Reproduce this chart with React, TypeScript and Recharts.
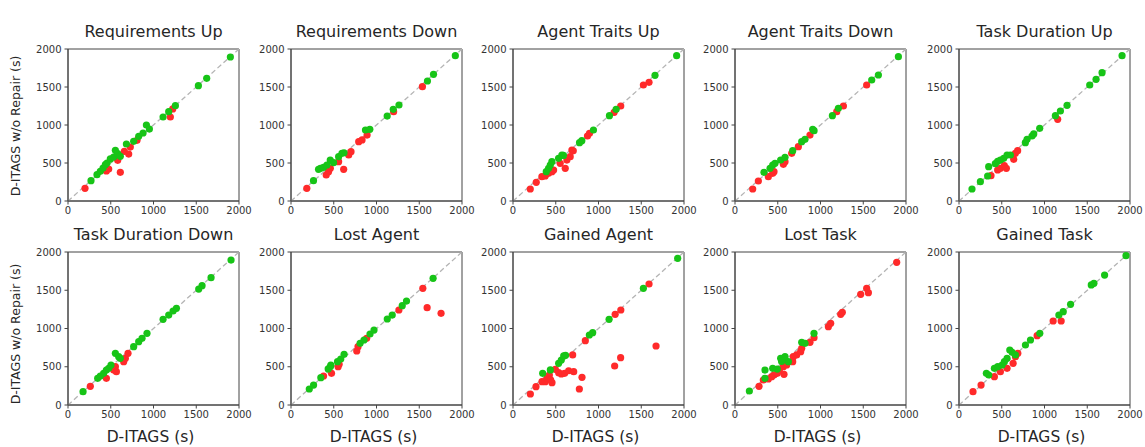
import React from 'react';
import { ScatterChart, Scatter, XAxis, YAxis, ReferenceLine, ReferenceArea } from 'recharts';

type P = [number, number];

const titles = [
  'Requirements Up', 'Requirements Down', 'Agent Traits Up', 'Agent Traits Down', 'Task Duration Up',
  'Task Duration Down', 'Lost Agent', 'Gained Agent', 'Lost Task', 'Gained Task',
];
const axisTicks = [0, 500, 1000, 1500, 2000];
const xLabel = 'D-ITAGS (s)';
const yLabel = 'D-ITAGS w/o Repair (s)';

const reqUpGreen: P[] = [[269,268],[339,346],[378,390],[410,434],[437,478],[456,500],[495,553],[534,579],[554,667],[581,623],[612,588],[683,750],[768,785],[827,851],[878,895],[917,1000],[952,947],[1112,1105],[1178,1175],[1256,1254],[1525,1518],[1622,1614],[1899,1895]];
const reqUpRed: P[] = [[199,167],[449,395],[476,421],[581,535],[612,377],[659,654],[710,618],[729,710],[807,798],[1197,1105],[1225,1211]];

const reqDownGreen: P[] = [[263,267],[322,417],[345,430],[380,443],[420,474],[459,539],[498,504],[557,583],[596,627],[620,635],[871,934],[922,943],[1125,1118],[1196,1206],[1263,1263],[1596,1579],[1667,1667],[1922,1912]];
const reqDownRed: P[] = [[185,167],[412,342],[439,386],[460,430],[557,518],[616,417],[675,605],[702,649],[792,781],[831,803],[890,868],[1200,1175],[1537,1504]];

const traitsUpGreen: P[] = [[389,386],[416,430],[436,474],[455,518],[533,561],[572,605],[590,600],[778,768],[805,794],[941,934],[1128,1123],[1206,1206],[1661,1654],[1914,1912]];
const traitsUpRed: P[] = [[202,158],[272,246],[338,320],[377,329],[416,364],[455,386],[475,408],[552,496],[611,430],[630,539],[669,583],[689,671],[705,660],[871,855],[895,890],[1183,1167],[1260,1250],[1525,1526],[1591,1561]];

const traitsDownGreen: P[] = [[339,377],[410,430],[441,474],[468,496],[534,539],[585,575],[675,662],[780,781],[819,811],[909,943],[925,925],[1139,1123],[1209,1219],[1599,1592],[1677,1658],[1911,1899]];
const traitsDownRed: P[] = [[207,158],[273,263],[390,320],[441,364],[456,386],[566,482],[585,518],[663,627],[741,715],[877,868],[1190,1175],[1268,1250],[1540,1526]];

const durUpGreen: P[] = [[152,158],[250,254],[335,329],[347,452],[425,491],[452,522],[484,539],[523,561],[562,605],[601,605],[776,768],[796,811],[854,855],[874,882],[944,956],[1127,1123],[1186,1184],[1264,1259],[1529,1526],[1603,1601],[1673,1689],[1907,1912]];
const durUpRed: P[] = [[374,333],[452,408],[484,430],[530,465],[554,430],[640,548],[659,627],[686,662],[1154,1075]];

const durDownGreen: P[] = [[176,174],[347,349],[378,379],[417,414],[449,457],[476,479],[503,523],[554,675],[593,632],[612,610],[768,762],[827,828],[866,871],[924,937],[1112,1120],[1178,1176],[1229,1229],[1268,1264],[1529,1516],[1568,1560],[1673,1664],[1907,1895]];
const durDownRed: P[] = [[261,244],[449,349],[534,457],[566,436],[554,501],[651,566],[671,610],[702,675]];

const lostAgentGreen: P[] = [[214,209],[264,261],[349,357],[435,471],[466,523],[460,500],[544,566],[582,601],[621,662],[808,806],[854,850],[924,928],[971,980],[1126,1124],[1184,1176],[1301,1298],[1351,1359],[1662,1656]];
const lostAgentRed: P[] = [[381,379],[474,414],[551,501],[563,532],[769,706],[784,762],[885,871],[1262,1242],[1542,1525],[1592,1272],[1755,1198]];

const gainedAgentGreen: P[] = [[347,414],[437,458],[534,545],[565,588],[593,641],[615,650],[893,915],[932,946],[1124,1120],[1525,1525],[1926,1917]];
const gainedAgentRed: P[] = [[203,144],[269,240],[339,305],[378,305],[398,349],[425,392],[456,292],[440,330],[495,466],[534,422],[565,405],[604,414],[651,448],[698,654],[710,436],[807,362],[776,209],[846,841],[1189,510],[1259,619],[1195,1185],[1261,1242],[1591,1582],[1673,771]];

const lostTaskGreen: P[] = [[168,183],[351,349],[351,457],[441,479],[495,470],[534,610],[585,632],[624,566],[545,570],[780,819],[819,806],[924,937]];
const lostTaskRed: P[] = [[281,244],[331,327],[390,340],[429,370],[456,392],[495,414],[519,457],[573,401],[565,501],[604,523],[675,566],[682,632],[721,654],[768,697],[780,741],[877,819],[924,880],[1092,1024],[1119,1067],[1236,1185],[1255,1211],[1470,1447],[1540,1525],[1560,1468],[1891,1865]];

const gainedTaskGreen: P[] = [[320,414],[348,392],[414,479],[453,501],[504,523],[531,566],[562,610],[594,719],[621,688],[660,654],[777,784],[836,850],[945,937],[1168,1176],[1219,1220],[1305,1316],[1547,1569],[1578,1590],[1703,1699],[1953,1952]];
const gainedTaskRed: P[] = [[164,174],[258,261],[414,370],[484,436],[562,479],[633,545],[660,632],[688,675],[914,906],[1101,1098],[1195,1098]];

const greenSets = [reqUpGreen, reqDownGreen, traitsUpGreen, traitsDownGreen, durUpGreen, durDownGreen, lostAgentGreen, gainedAgentGreen, lostTaskGreen, gainedTaskGreen];
const redSets = [reqUpRed, reqDownRed, traitsUpRed, traitsDownRed, durUpRed, durDownRed, lostAgentRed, gainedAgentRed, lostTaskRed, gainedTaskRed];

const GREEN = '#17c417';
const RED = '#ff2a2a';
const FONT = '"DejaVu Sans", sans-serif';

const colLefts = [68, 291, 513, 735, 959];
const rowTops = [49, 252];
const rowHeights = [152, 153];
const plotW = 171;
const Y_AXIS_W = 50;
const M_TOP = 10;
const M_RIGHT = 14;
const X_AXIS_H = 25;

const toPts = (a: P[]) => a.map(([x, y]) => ({ x, y }));

const dot = (color: string) => (p: any) => (
  <circle cx={p.cx} cy={p.cy} r={3.6} fill={color} />
);

const tickStyle = { fontSize: 10, fill: '#333', fontFamily: FONT };

function Panel({ idx }: { idx: number }) {
  const row = Math.floor(idx / 5);
  const col = idx % 5;
  const h = rowHeights[row];
  const w = Y_AXIS_W + plotW + M_RIGHT;
  const ht = M_TOP + h + X_AXIS_H;
  return (
    <div style={{ position: 'absolute', left: colLefts[col] - Y_AXIS_W, top: rowTops[row] - M_TOP, width: w, height: ht }}>
      <ScatterChart width={w} height={ht} margin={{ top: M_TOP, right: M_RIGHT, bottom: 0, left: 0 }}>
        <XAxis
          type="number" dataKey="x" domain={[0, 2000]} ticks={axisTicks} interval={0}
          height={X_AXIS_H} tickSize={3.5} tickMargin={2.5} stroke="#444" tick={tickStyle} allowDataOverflow
        />
        <YAxis
          type="number" dataKey="y" domain={[0, 2000]} ticks={axisTicks} interval={0}
          width={Y_AXIS_W} tickSize={3.5} tickMargin={3} stroke="#444" tick={tickStyle} allowDataOverflow
        />
        <Scatter data={toPts(redSets[idx])} shape={dot(RED)} isAnimationActive={false} />
        <Scatter data={toPts(greenSets[idx])} shape={dot(GREEN)} isAnimationActive={false} />
        <ReferenceLine
          segment={[{ x: 0, y: 0 }, { x: 2000, y: 2000 }]}
          stroke="#b4b4b4" strokeWidth={1.3} strokeDasharray="5 3"
        />
        <ReferenceArea x1={0} x2={2000} y1={0} y2={2000} fill="none" fillOpacity={0} stroke="#444" strokeWidth={1} />
      </ScatterChart>
    </div>
  );
}

export default function App() {
  const titleBaselines = [37.3, 240];
  const yLabelCenters = [126, 334];
  return (
    <div style={{ position: 'absolute', left: 0, top: 0, width: 1145, height: 447, background: '#fff', overflow: 'hidden' }}>
      {titles.map((_, i) => <Panel key={i} idx={i} />)}
      <svg width={1145} height={447} style={{ position: 'absolute', left: 0, top: 0, pointerEvents: 'none' }}>
        {titles.map((t, i) => {
          const row = Math.floor(i / 5);
          const col = i % 5;
          return (
            <text key={t} x={colLefts[col] + plotW / 2} y={titleBaselines[row]} textAnchor="middle"
              fontFamily={FONT} fontSize={16} fill="#262626">{t}</text>
          );
        })}
        {yLabelCenters.map((cy, r) => (
          <text key={'yl' + r} transform={`translate(20, ${cy}) rotate(-90)`} textAnchor="middle"
            fontFamily={FONT} fontSize={12.5} fill="#262626">{yLabel}</text>
        ))}
        {colLefts.map((cl, c) => (
          <text key={'xl' + c} x={cl + plotW / 2 - 3} y={441.7} textAnchor="middle"
            fontFamily={FONT} fontSize={15.5} fill="#262626">{xLabel}</text>
        ))}
      </svg>
    </div>
  );
}
